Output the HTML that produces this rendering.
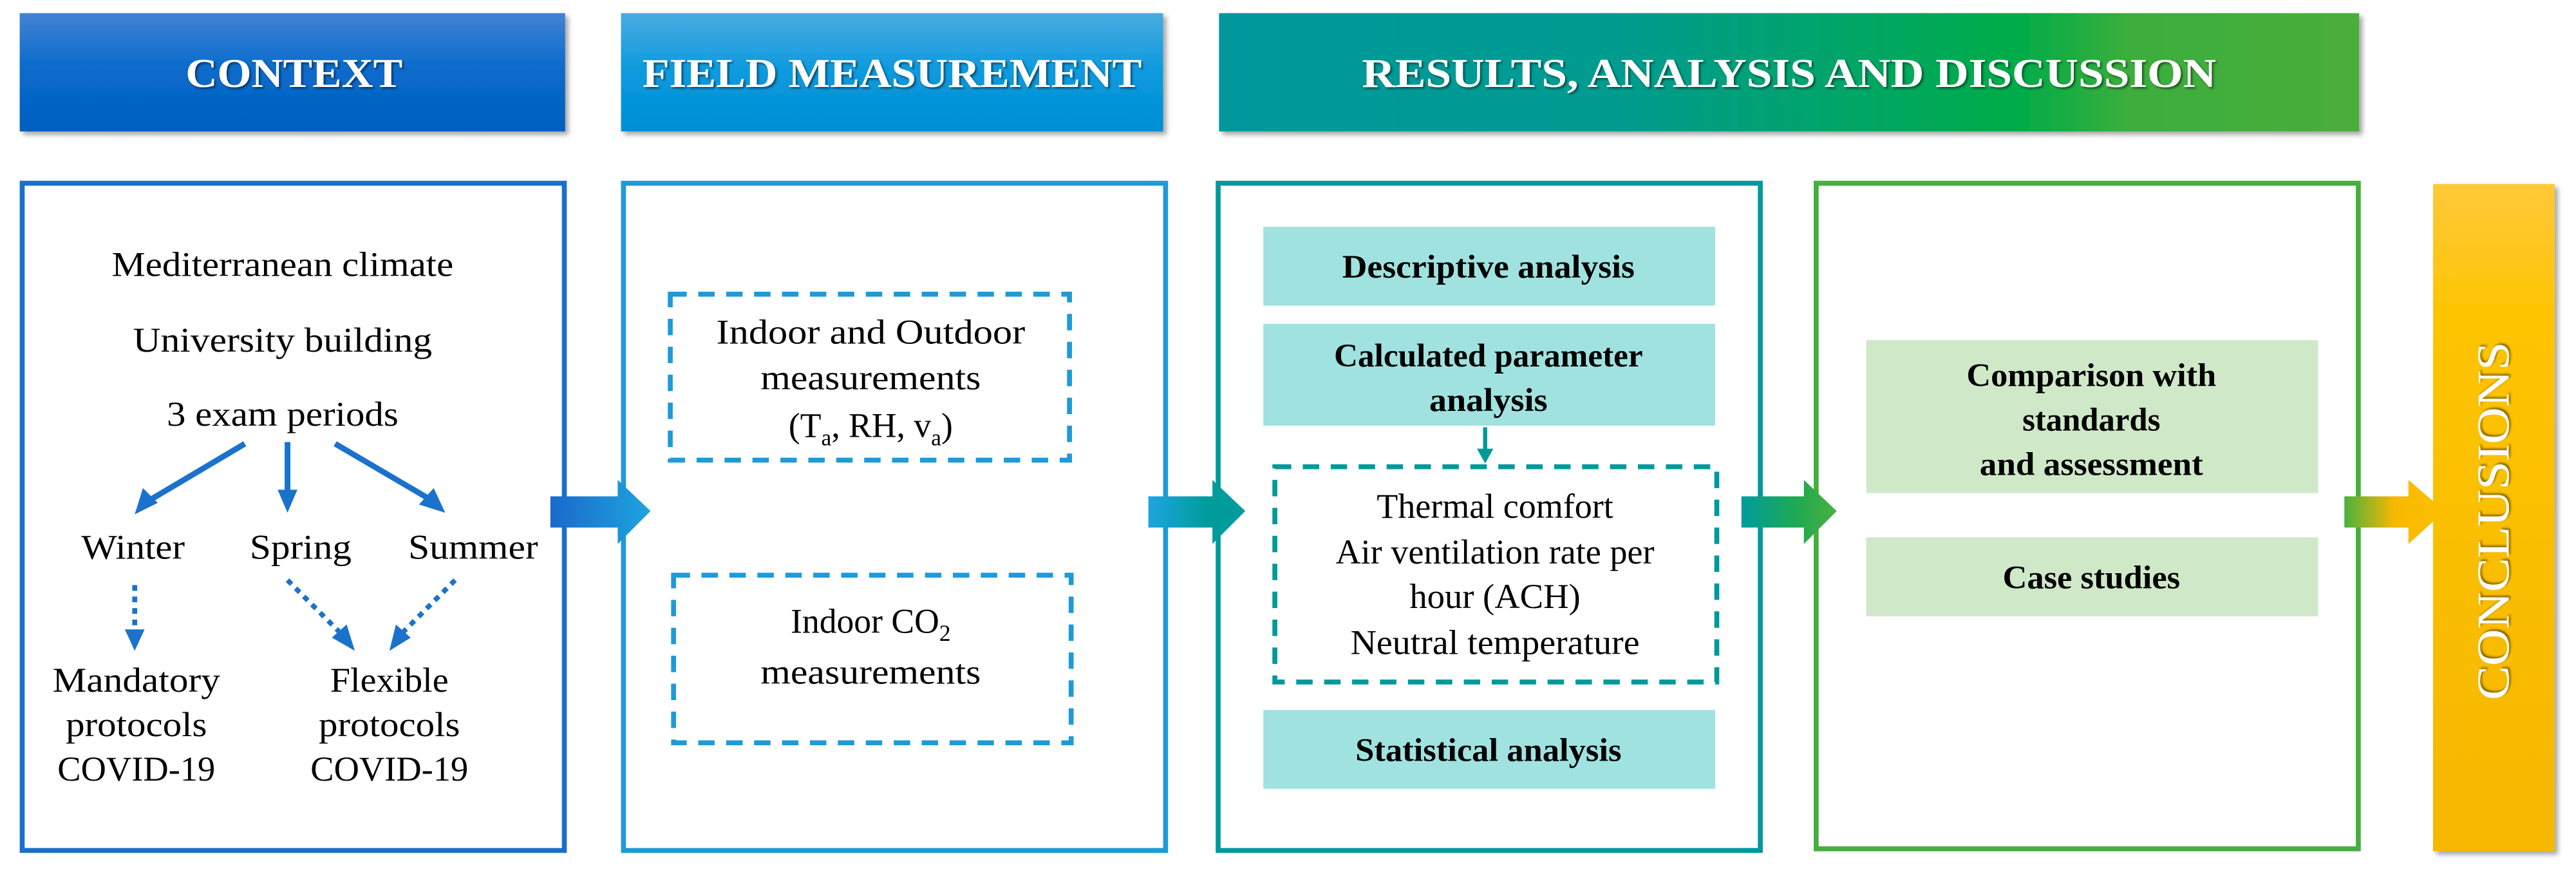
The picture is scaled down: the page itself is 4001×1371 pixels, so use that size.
<!DOCTYPE html>
<html><head><meta charset="utf-8"><style>html,body{margin:0;padding:0;background:#fff}svg{display:block}svg text{font-family:"Liberation Serif",serif}</style></head>
<body>
<svg width="4001" height="1371" viewBox="0 0 1568 537.3" xmlns="http://www.w3.org/2000/svg">
<defs>
<linearGradient id="g1" x1="0" y1="0" x2="0" y2="1"><stop offset="0" stop-color="#4382d4"/><stop offset="0.45" stop-color="#0a6ccc"/><stop offset="1" stop-color="#005fbf"/></linearGradient>
<linearGradient id="g2" x1="0" y1="0" x2="0" y2="1"><stop offset="0" stop-color="#4aaae0"/><stop offset="0.5" stop-color="#0a9ade"/><stop offset="1" stop-color="#008ed4"/></linearGradient>
<linearGradient id="g3" x1="0" y1="0" x2="1" y2="0"><stop offset="0" stop-color="#00989c"/><stop offset="0.35" stop-color="#009c90"/><stop offset="0.7" stop-color="#00ac48"/><stop offset="0.8" stop-color="#3cae3c"/><stop offset="1" stop-color="#4aae3a"/></linearGradient>
<linearGradient id="g4" x1="0" y1="0" x2="0" y2="1"><stop offset="0" stop-color="#ffc93a"/><stop offset="0.2" stop-color="#fec400"/><stop offset="1" stop-color="#f5b700"/></linearGradient>
<linearGradient id="a1" x1="0" y1="0" x2="1" y2="0"><stop offset="0" stop-color="#1a6acb"/><stop offset="1" stop-color="#1ea4e0"/></linearGradient>
<linearGradient id="a2" x1="0" y1="0" x2="1" y2="0"><stop offset="0" stop-color="#1ea4e0"/><stop offset="0.6" stop-color="#009c9c"/><stop offset="1" stop-color="#009c9c"/></linearGradient>
<linearGradient id="a3" x1="0" y1="0" x2="1" y2="0"><stop offset="0" stop-color="#009c9c"/><stop offset="0.6" stop-color="#20aa50"/><stop offset="1" stop-color="#4ab040"/></linearGradient>
<linearGradient id="a4" x1="0" y1="0" x2="1" y2="0"><stop offset="0" stop-color="#4ab040"/><stop offset="0.5" stop-color="#f8b800"/><stop offset="1" stop-color="#fcc000"/></linearGradient>
<filter id="sh" x="-5%" y="-10%" width="115%" height="130%"><feDropShadow dx="2" dy="2" stdDeviation="1.5" flood-color="#000" flood-opacity="0.35"/></filter>
<filter id="ts"><feDropShadow dx="1" dy="1" stdDeviation="0.6" flood-color="#000" flood-opacity="0.5"/></filter>
</defs>

<rect x="12" y="8" width="332" height="72" fill="url(#g1)" filter="url(#sh)"/>
<rect x="378" y="8" width="330" height="72" fill="url(#g2)" filter="url(#sh)"/>
<rect x="742" y="8" width="694" height="72" fill="url(#g3)" filter="url(#sh)"/>
<g fill="#fff" font-weight="bold" font-size="25" text-anchor="middle" filter="url(#ts)">
<text x="179" y="53" textLength="132" lengthAdjust="spacingAndGlyphs">CONTEXT</text>
<text x="543" y="53" textLength="304" lengthAdjust="spacingAndGlyphs">FIELD MEASUREMENT</text>
<text x="1089" y="53" textLength="520" lengthAdjust="spacingAndGlyphs">RESULTS, ANALYSIS AND DISCUSSION</text>
</g>

<rect x="13.5" y="111.5" width="330" height="406" fill="none" stroke="#1a6fcc" stroke-width="3"/>
<rect x="379.5" y="111.5" width="330" height="406" fill="none" stroke="#1e9ad8" stroke-width="3"/>
<rect x="741.5" y="111.5" width="330" height="406" fill="none" stroke="#00999a" stroke-width="3"/>
<rect x="1105.5" y="111.5" width="330" height="405" fill="none" stroke="#46ae3e" stroke-width="3"/>
<rect x="1481" y="112" width="74" height="406" fill="url(#g4)" filter="url(#sh)"/>
<text transform="translate(1527,317) rotate(-90)" text-anchor="middle" fill="#fff" font-size="28" textLength="218" lengthAdjust="spacingAndGlyphs" filter="url(#ts)">CONCLUSIONS</text>

<polygon points="335,302 376,302 376,292 396,311 376,331 376,321 335,321" fill="url(#a1)"/>
<polygon points="699,302 738,302 738,292 758,311 738,331 738,321 699,321" fill="url(#a2)"/>
<polygon points="1060,302 1098,302 1098,292 1118,311 1098,331 1098,321 1060,321" fill="url(#a3)"/>
<polygon points="1427,302 1466,302 1466,292 1488,311 1466,331 1466,321 1427,321" fill="url(#a4)"/>

<g font-size="21" text-anchor="middle" fill="#000">
<text x="172" y="168" textLength="208" lengthAdjust="spacingAndGlyphs">Mediterranean climate</text>
<text x="172" y="214" textLength="182" lengthAdjust="spacingAndGlyphs">University building</text>
<text x="172" y="259" textLength="141" lengthAdjust="spacingAndGlyphs">3 exam periods</text>
<text x="81" y="340" textLength="63" lengthAdjust="spacingAndGlyphs">Winter</text>
<text x="183" y="340" textLength="62" lengthAdjust="spacingAndGlyphs">Spring</text>
<text x="288" y="340" textLength="79" lengthAdjust="spacingAndGlyphs">Summer</text>
<text x="83" y="421" textLength="102" lengthAdjust="spacingAndGlyphs">Mandatory</text>
<text x="83" y="448" textLength="86" lengthAdjust="spacingAndGlyphs">protocols</text>
<text x="83" y="475" textLength="96" lengthAdjust="spacingAndGlyphs">COVID-19</text>
<text x="237" y="421" textLength="72" lengthAdjust="spacingAndGlyphs">Flexible</text>
<text x="237" y="448" textLength="86" lengthAdjust="spacingAndGlyphs">protocols</text>
<text x="237" y="475" textLength="96" lengthAdjust="spacingAndGlyphs">COVID-19</text>
</g>
<g stroke="#1a72cc" stroke-width="3.5" fill="#1a72cc">
<line x1="149" y1="270" x2="90" y2="305"/>
<polygon points="82,313 87,297 96,306" stroke="none"/>
<line x1="175" y1="269" x2="175" y2="300"/>
<polygon points="169,298 181,298 175,312" stroke="none"/>
<line x1="204" y1="270" x2="262" y2="304"/>
<polygon points="271,312 255,307 264,297" stroke="none"/>
<g stroke-dasharray="3.5,3.5" stroke-width="3">
<line x1="82" y1="356" x2="82" y2="384"/>
<line x1="175" y1="353" x2="207" y2="385"/>
<line x1="277" y1="353" x2="245" y2="385"/>
</g>
<polygon points="76,383 88,383 82,396" stroke="none"/>
<polygon points="202,388 211,380 216,396" stroke="none"/>
<polygon points="241,380 250,388 237,396" stroke="none"/>
</g>

<g fill="none" stroke="#1e9ad8" stroke-width="3" stroke-dasharray="10,7">
<rect x="408" y="179" width="243" height="101"/>
<rect x="410" y="350" width="242" height="102"/>
</g>
<g font-size="21" text-anchor="middle" fill="#000">
<text x="530" y="209" textLength="188" lengthAdjust="spacingAndGlyphs">Indoor and Outdoor</text>
<text x="530" y="237" textLength="134" lengthAdjust="spacingAndGlyphs">measurements</text>
<text x="530" y="266">(T<tspan font-size="14" dy="5">a</tspan><tspan dy="-5">, RH, v</tspan><tspan font-size="14" dy="5">a</tspan><tspan dy="-5">)</tspan></text>
<text x="530" y="385">Indoor CO<tspan font-size="14" dy="5">2</tspan></text>
<text x="530" y="416" textLength="134" lengthAdjust="spacingAndGlyphs">measurements</text>
</g>

<g fill="#a0e2e0">
<rect x="769" y="138" width="275" height="48"/>
<rect x="769" y="197" width="275" height="62"/>
<rect x="769" y="432" width="275" height="48"/>
</g>
<line x1="904" y1="260" x2="904" y2="275" stroke="#009a96" stroke-width="2.5"/>
<polygon points="899,273 909,273 904,282" fill="#009a96"/>
<rect x="776" y="284" width="269" height="131" fill="none" stroke="#00999a" stroke-width="3" stroke-dasharray="10,7"/>
<g font-size="20" text-anchor="middle" fill="#000" font-weight="bold">
<text x="906" y="169" textLength="178" lengthAdjust="spacingAndGlyphs">Descriptive analysis</text>
<text x="906" y="223" textLength="188" lengthAdjust="spacingAndGlyphs">Calculated parameter</text>
<text x="906" y="250" textLength="72" lengthAdjust="spacingAndGlyphs">analysis</text>
<text x="906" y="463" textLength="162" lengthAdjust="spacingAndGlyphs">Statistical analysis</text>
</g>
<g font-size="21" text-anchor="middle" fill="#000">
<text x="910" y="315" textLength="144" lengthAdjust="spacingAndGlyphs">Thermal comfort</text>
<text x="910" y="343" textLength="194" lengthAdjust="spacingAndGlyphs">Air ventilation rate per</text>
<text x="910" y="370" textLength="104" lengthAdjust="spacingAndGlyphs">hour (ACH)</text>
<text x="910" y="398" textLength="176" lengthAdjust="spacingAndGlyphs">Neutral temperature</text>
</g>

<g fill="#cfe8c8">
<rect x="1136" y="207" width="275" height="93"/>
<rect x="1136" y="327" width="275" height="48"/>
</g>
<g font-size="20" text-anchor="middle" fill="#000" font-weight="bold">
<text x="1273" y="235" textLength="152" lengthAdjust="spacingAndGlyphs">Comparison with</text>
<text x="1273" y="262" textLength="84" lengthAdjust="spacingAndGlyphs">standards</text>
<text x="1273" y="289" textLength="136" lengthAdjust="spacingAndGlyphs">and assessment</text>
<text x="1273" y="358" textLength="108" lengthAdjust="spacingAndGlyphs">Case studies</text>
</g>
</svg>
</body></html>
